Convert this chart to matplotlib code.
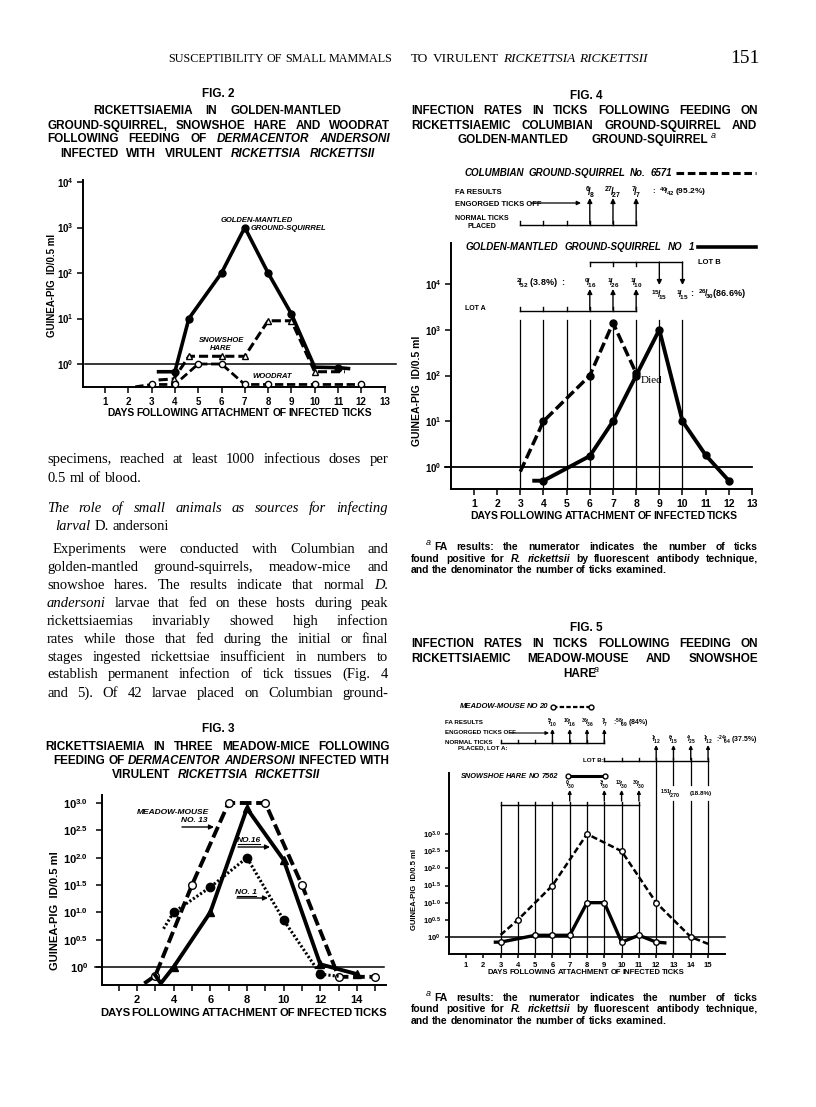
import matplotlib
matplotlib.use('Agg')
import matplotlib.pyplot as plt
from matplotlib.transforms import Affine2D, blended_transform_factory

W, H = 816, 1107
SANS = 'Liberation Sans'
SERIF = 'Liberation Serif'

plt.rcParams['font.family'] = SANS
plt.rcParams['font.weight'] = 'bold'
plt.rcParams['mathtext.fontset'] = 'custom'
plt.rcParams['mathtext.rm'] = 'Liberation Sans:bold'
plt.rcParams['mathtext.it'] = 'Liberation Sans:italic:bold'
plt.rcParams['mathtext.bf'] = 'Liberation Sans:bold'

# ---------------- data (log10 of guinea-pig ID / 0.5 ml) ----------------
# Fig. 2
f2_days = list(range(1, 14))
gm_x = [3.3, 4, 4.6, 6, 7, 8, 9, 10.0, 11, 11.45]
gm_y = [-0.17, -0.17, 1.0, 2.0, 3.0, 2.0, 1.1, -0.07, -0.08, -0.1]
hare_x = [3.3, 3.95, 4.6, 6, 7, 8, 9, 10.0, 11.3]
hare_y = [-0.35, -0.33, 0.17, 0.17, 0.17, 0.95, 0.95, -0.17, -0.17]
wood_x = [2.3, 3, 4, 5, 6, 7, 8, 9, 10, 11, 12]
wood_y = [-0.5, -0.45, -0.45, 0.0, 0.0, -0.45, -0.45, -0.45, -0.45, -0.45, -0.45]

# Fig. 3
f3_days = list(range(1, 16))
mm13_x = [2.4, 3.0, 5.0, 7.0, 9.0, 11.0, 13.0, 15.0]
mm13_y = [-0.3, -0.16, 1.5, 3.0, 3.0, 1.5, -0.18, -0.18]
mm16_x = [3.0, 3.3, 4, 6, 8, 10, 12, 14]
mm16_y = [-0.15, -0.3, 0.0, 1.0, 2.9, 1.96, 0.05, -0.13]
mm1_x = [3.45, 4, 6, 8, 10, 12, 13]
mm1_y = [0.7, 1.0, 1.46, 2.0, 0.86, -0.13, -0.17]

# Fig. 4
f4_days = list(range(1, 14))
col_x = [3.0, 4, 6, 7, 8]
col_y = [-0.1, 1.0, 2.0, 3.15, 2.05]
gm1_x = [3.6, 4, 6, 7, 8, 9, 10, 11, 12]
gm1_y = [-0.3, -0.3, 0.24, 1.0, 2.0, 3.0, 1.0, 0.26, -0.3]
col_fa_days = [6, 7, 8]
col_fa = [('6', '8'), ('27', '27'), ('7', '7')]
lotA4_days = [6, 7, 8]
lotA4_fa = [('0', '16'), ('1', '26'), ('1', '10')]
lotB4_days = [9, 10]
lotB4_fa = [('15', '15'), ('1', '15')]

# Fig. 5
f5_days = list(range(1, 16))
mm20_x = [3, 4, 6, 8, 10, 12, 14, 15]
mm20_y = [0.06, 0.5, 1.5, 3.0, 2.5, 1.0, 0.0, -0.2]
sh_x = [2.7, 3, 5, 6, 7, 8, 9, 10, 11, 12, 12.5]
sh_y = [-0.15, -0.15, 0.05, 0.05, 0.05, 1.0, 1.0, -0.15, 0.05, -0.15, -0.17]
mmA_days = [6, 7, 8, 9]
mmA_fa = [('5', '10'), ('10', '16'), ('36', '36'), ('7', '7')]
mmB_days = [12, 13, 14, 15]
mmB_fa = [('1', '12'), ('6', '15'), ('4', '25'), ('1', '12')]
shA_days = [7, 9, 10, 11]
shA_fa = [('0', '30'), ('3', '30'), ('13', '30'), ('30', '30')]

# ---------------- page ----------------
fig = plt.figure(figsize=(W / 100, H / 100), dpi=100)
fig.patch.set_facecolor('white')
page = Affine2D().scale(1, -1).translate(0, H)
R = fig.canvas.get_renderer()


def put(x, y, s, size, **kw):
    kw.setdefault('va', 'baseline')
    return fig.text(x, y, s, transform=page, fontsize=size, **kw)


def txt_line(x0, x1, y, text, size, family=SANS, weight='bold', italic=False,
             justify=True, va='baseline'):
    words = text.split()
    items = []
    for w in words:
        it = italic or w.startswith('_')
        t = put(x0, y, w.lstrip('_'), size, family=family, weight=weight,
                style='italic' if it else 'normal', va=va)
        items.append(t)
    widths = [t.get_window_extent(R).width for t in items]
    total = sum(widths)
    space = 0.27 * size * 100 / 72
    if justify and len(items) > 1:
        gap = (x1 - x0 - total) / (len(items) - 1)
        if gap < 0.6 * space:
            k = (x1 - x0 - 0.6 * space * (len(items) - 1)) / total
            for t in items:
                t.set_fontsize(size * k)
            widths = [t.get_window_extent(R).width for t in items]
            gap = (x1 - x0 - sum(widths)) / (len(items) - 1)
    else:
        gap = space
    x = x0
    for t, w in zip(items, widths):
        t.set_x(x)
        x += w + gap


def frac(n, d):
    return r'$^{%s}\!/\!_{%s}$' % (n, d)


def make_axes(box, day0, step, zero, dec):
    l, t, r, b = box
    ax = fig.add_axes([l / W, 1 - b / H, (r - l) / W, (b - t) / H])
    ax.set_xlim((l - day0) / step, (r - day0) / step)
    ax.set_ylim((zero - b) / dec, (zero - t) / dec)
    ax.patch.set_visible(False)
    for s in ('top', 'right'):
        ax.spines[s].set_visible(False)
    for s in ('left', 'bottom'):
        ax.spines[s].set_linewidth(1.4)
    ax.tick_params(direction='out', width=1.1, length=4, pad=3)
    return ax


def bracket(ax, bt, d0, d1, y, days, h=4, lw=1.0):
    ax.plot([d0, d1], [y, y], transform=bt, color='k', lw=lw, clip_on=False)
    for d in days:
        ax.plot([d, d], [y, y - h], transform=bt, color='k', lw=lw, clip_on=False)


def arrow(ax, bt, d, y0, y1, ms=7):
    ax.annotate('', xy=(d, y1), xytext=(d, y0), xycoords=bt, textcoords=bt,
                arrowprops=dict(arrowstyle='-|>', color='k', lw=1.0,
                                mutation_scale=ms, shrinkA=0, shrinkB=0),
                annotation_clip=False)


# ---------------- running head and text ----------------
txt_line(168, 393, 62, 'SUSCEPTIBILITY OF SMALL MAMMALS', 9.5, family=SERIF, weight='normal')
txt_line(411, 648, 62, 'TO VIRULENT _RICKETTSIA _RICKETTSII', 9.5, family=SERIF, weight='normal')
put(760, 63, '151', 14, family=SERIF, weight='normal', ha='right')

body = [
    (47, 388, 463, 'specimens, reached at least 1000 infectious doses per', True, False),
    (47, 388, 482, '0.5 ml of blood.', False, False),
    (47, 388, 512, 'The role of small animals as sources for infecting', True, True),
    (55, 388, 530, '_larval D. andersoni', False, False),
    (53, 388, 553, 'Experiments were conducted with Columbian and', True, False),
    (47, 388, 571, 'golden-mantled ground-squirrels, meadow-mice and', True, False),
    (47, 388, 589, 'snowshoe hares.  The results indicate that normal _D.', True, False),
    (47, 388, 607, '_andersoni larvae that fed on these hosts during peak', True, False),
    (47, 388, 625, 'rickettsiaemias invariably showed high infection', True, False),
    (47, 388, 643, 'rates while those that fed during the initial or final', True, False),
    (47, 388, 661, 'stages ingested rickettsiae insufficient in numbers to', True, False),
    (47, 388, 678, 'establish permanent infection of tick tissues (Fig. 4', True, False),
    (47, 388, 697, 'and 5).  Of 42 larvae placed on Columbian ground-', True, False),
]
for x0, x1, y, s, just, ital in body:
    txt_line(x0, x1, y, s, 10.5, family=SERIF, weight='normal', italic=ital, justify=just)

# ---------------- titles ----------------
TS = 8.5
put(218, 97, 'FIG. 2', TS, ha='center')
txt_line(93, 341, 114, 'RICKETTSIAEMIA IN GOLDEN-MANTLED', TS)
txt_line(47, 390, 129, 'GROUND-SQUIRREL, SNOWSHOE HARE AND WOODRAT', TS)
txt_line(47, 390, 142, 'FOLLOWING FEEDING OF _DERMACENTOR _ANDERSONI', TS)
txt_line(60, 375, 157, 'INFECTED WITH VIRULENT _RICKETTSIA _RICKETTSII', TS)

put(218, 732, 'FIG. 3', TS, ha='center')
txt_line(45, 390, 750, 'RICKETTSIAEMIA IN THREE MEADOW-MICE FOLLOWING', TS)
txt_line(53, 390, 764, 'FEEDING OF _DERMACENTOR _ANDERSONI INFECTED WITH', TS)
txt_line(112, 320, 778, 'VIRULENT _RICKETTSIA _RICKETTSII', TS)

put(586, 99, 'FIG. 4', TS, ha='center')
txt_line(411, 758, 114, 'INFECTION RATES IN TICKS FOLLOWING FEEDING ON', TS)
txt_line(411, 757, 129, 'RICKETTSIAEMIC COLUMBIAN GROUND-SQUIRREL AND', TS)
txt_line(457, 708, 143, 'GOLDEN-MANTLED GROUND-SQUIRREL', TS)
put(711, 138, 'a', 6.5, style='italic', weight='normal')

put(586, 631, 'FIG. 5', TS, ha='center')
txt_line(411, 758, 647, 'INFECTION RATES IN TICKS FOLLOWING FEEDING ON', TS)
txt_line(411, 758, 662, 'RICKETTSIAEMIC MEADOW-MOUSE AND SNOWSHOE', TS)
put(563, 677, 'HARE', TS)
put(594, 672, 'a', 6.5, style='italic', weight='normal')

for yb in (550, 1001):
    put(426, yb - 5, 'a', 6.5, style='italic', weight='normal')
    txt_line(434, 758, yb, 'FA results: the numerator indicates the number of ticks', 7.5)
    txt_line(411, 758, yb + 11.5, 'found positive for _R. _rickettsii by fluorescent antibody technique,', 7.5)
    txt_line(411, 758, yb + 23, 'and the denominator the number of ticks examined.', 7.5, justify=False)

# ---------------- Fig. 2 ----------------
ax2 = make_axes((83, 180, 385, 387), 81.7, 23.3, 364, 45.5)
ax2.set_xticks(f2_days)
ax2.set_xticklabels([str(d) for d in f2_days], fontsize=7)
ax2.set_yticks(range(5))
ax2.set_yticklabels([r'$10^{%d}$' % i for i in range(5)], fontsize=7)
ax2.plot([0.15, 13.5], [0, 0], color='k', lw=1.1, clip_on=False)
ax2.plot(gm_x, gm_y, color='k', lw=2.6, marker='o', ms=5, markevery=[1, 2, 3, 4, 5, 6, 8],
         clip_on=False, zorder=4)
ax2.plot(hare_x, hare_y, color='k', lw=2.2, ls=(0, (3, 1.3)), marker='^', ms=5, mfc='white',
         markevery=[1, 2, 3, 4, 5, 6, 7], clip_on=False, zorder=3)
ax2.plot(wood_x, wood_y, color='k', lw=2.0, ls=(0, (3, 1.3)), marker='o', ms=4.5, mfc='white',
         markevery=[1, 2, 3, 4, 5, 6, 8, 10], clip_on=False, zorder=3)
put(257, 220, 'GOLDEN-MANTLED', 5.5, style='italic', ha='center', va='center')
put(288, 228, 'GROUND-SQUIRREL', 5.5, style='italic', ha='center', va='center')
put(222, 340, 'SNOWSHOE', 5.5, style='italic', ha='center', va='center')
put(221, 348, 'HARE', 5.5, style='italic', ha='center', va='center')
put(272, 377, 'WOODRAT', 5.5, style='italic', ha='center', va='center')
put(52, 285, 'GUINEA-PIG  ID/0.5 ml', 7, rotation=90, ha='center', va='center')
txt_line(107, 372, 413, 'DAYS FOLLOWING ATTACHMENT OF INFECTED TICKS', 7.5, va='center')

# ---------------- Fig. 3 ----------------
ax3 = make_axes((102, 795, 386, 985), 100.3, 18.33, 967, 54.67)
ax3.set_xticks(f3_days)
ax3.set_xticklabels([str(d) if d % 2 == 0 else '' for d in f3_days], fontsize=8)
y3 = [i * 0.5 for i in range(7)]
ax3.set_yticks(y3)
ax3.set_yticklabels([r'$10^{0}$'] + [r'$10^{%.1f}$' % v for v in y3[1:]], fontsize=8)
ax3.tick_params(axis='y', pad=6)
ax3.plot([-0.3, 15.5], [0, 0], color='k', lw=1.1, clip_on=False)
ax3.plot(mm13_x, mm13_y, color='k', lw=2.8, ls=(0, (3, 1.2)), marker='o', ms=5.5, mfc='white',
         markevery=list(range(1, 8)), clip_on=False, zorder=3)
ax3.plot(mm16_x, mm16_y, color='k', lw=2.8, marker='^', ms=6,
         markevery=list(range(2, 8)), clip_on=False, zorder=4)
ax3.plot(mm1_x, mm1_y, color='k', lw=2.2, ls=(0, (0.7, 0.7)), marker='o', ms=6,
         markevery=list(range(1, 6)), clip_on=False, zorder=4)
put(173, 812, 'MEADOW-MOUSE', 6, style='italic', ha='center', va='center')
put(194, 821, 'NO. 13', 6, style='italic', ha='center', va='center')
put(249, 840, 'NO.16', 6, style='italic', ha='center', va='center')
put(246, 892, 'NO. 1', 6, style='italic', ha='center', va='center')
for x0, x1, y in ((238, 260, 844), (237, 256, 896)):
    ax3.plot([x0, x1], [y, y], transform=page, color='k', lw=0.8, clip_on=False)
for x0, x1, y in ((182, 214, 827), (238, 270, 847), (237, 268, 898)):
    ax3.annotate('', xy=(x1, y), xytext=(x0, y), xycoords=page, textcoords=page,
                 arrowprops=dict(arrowstyle='-|>', color='k', lw=1.0, mutation_scale=7,
                                 shrinkA=0, shrinkB=0), annotation_clip=False)
put(55, 911, 'GUINEA-PIG  ID/0.5 ml', 8, rotation=90, ha='center', va='center')
txt_line(100, 388, 1013, 'DAYS FOLLOWING ATTACHMENT OF INFECTED TICKS', 8.5, va='center')

# ---------------- Fig. 4 ----------------
ax4 = make_axes((451, 243, 752, 489), 450.8, 23.18, 467, 45.75)
ax4.set_xticks(f4_days)
ax4.set_xticklabels([str(d) for d in f4_days], fontsize=7.5)
ax4.set_yticks(range(5))
ax4.set_yticklabels([r'$10^{%d}$' % i for i in range(5)], fontsize=7)
bt4 = blended_transform_factory(ax4.transData, page)
for d in range(3, 11):
    ax4.plot([d, d], [320, 489], transform=bt4, color='k', lw=0.9, clip_on=False)
ax4.plot([-0.25, 13.0], [0, 0], color='k', lw=1.3, clip_on=False)
ax4.plot(col_x, col_y, color='k', lw=2.5, ls=(0, (3, 1.2)), marker='o', ms=5,
         markevery=[1, 2, 3, 4], clip_on=False, zorder=4)
ax4.plot(gm1_x, gm1_y, color='k', lw=2.8, marker='o', ms=5,
         markevery=list(range(1, 9)), clip_on=False, zorder=4)
ax4.text(8.2, 1.9, 'Died', fontsize=8, family=SERIF, weight='normal', va='center')

txt_line(465, 672, 173, 'COLUMBIAN GROUND-SQUIRREL No. 6571', 7, italic=True, va='center')
ax4.plot([676, 756], [173, 173], transform=page, color='k', lw=2.2, ls=(0, (2.5, 1.2)),
         clip_on=False)
put(455, 192, 'FA RESULTS', 5.5, va='center')
for d, (n, q) in zip(col_fa_days, col_fa):
    ax4.text(d, 192, frac(n, q), transform=bt4, ha='center', va='center', fontsize=7)
put(652, 192, ':  ' + frac('40', '42') + ' (95.2%)', 6, va='center')
put(455, 204, 'ENGORGED TICKS OFF', 5.5, va='center')
ax4.annotate('', xy=(581, 203), xytext=(531, 203), xycoords=page, textcoords=page,
             arrowprops=dict(arrowstyle='-|>', color='k', lw=0.9, mutation_scale=6,
                             shrinkA=0, shrinkB=0), annotation_clip=False)
for d in col_fa_days:
    arrow(ax4, bt4, d, 224, 198)
put(455, 219, 'NORMAL TICKS', 5, va='center')
put(468, 227, 'PLACED', 5, va='center')
bracket(ax4, bt4, 3, 8, 225, range(3, 9), h=4)

txt_line(466, 694, 247, 'GOLDEN-MANTLED GROUND-SQUIRREL NO 1', 7, italic=True, va='center')
ax4.plot([698, 756], [247, 247], transform=page, color='k', lw=2.6, clip_on=False)
bracket(ax4, bt4, 6, 10, 262, [6, 7, 8], h=-4)
put(698, 263, 'LOT B', 5.5, va='center')
for d in lotB4_days:
    arrow(ax4, bt4, d, 262, 285)
for d, (n, q) in zip(lotB4_days, lotB4_fa):
    ax4.text(d, 295, frac(n, q), transform=bt4, ha='center', va='center', fontsize=6.5)
put(690, 294, ':  ' + frac('26', '30') + '(86.6%)', 6.5, va='center')
put(516, 283, frac('2', '52') + ' (3.8%)  :', 6.5, va='center')
for d, (n, q) in zip(lotA4_days, lotA4_fa):
    ax4.text(d, 283, frac(n, q), transform=bt4, ha='center', va='center', fontsize=6.5)
for d in lotA4_days:
    arrow(ax4, bt4, d, 310, 289)
bracket(ax4, bt4, 3, 8, 311, range(3, 9), h=4)
put(465, 309, 'LOT A', 5, va='center')
put(417, 391, 'GUINEA-PIG  ID/0.5 ml', 7.5, rotation=90, ha='center', va='center')
txt_line(470, 738, 516, 'DAYS FOLLOWING ATTACHMENT OF INFECTED TICKS', 7.5, va='center')

# ---------------- Fig. 5 ----------------
ax5 = make_axes((449, 773, 725, 954), 448.7, 17.29, 937, 34.33)
ax5.set_xticks(f5_days)
ax5.set_xticklabels([str(d) for d in f5_days], fontsize=5.5)
y5 = [i * 0.5 for i in range(7)]
ax5.set_yticks(y5)
ax5.set_yticklabels([r'$10^{0}$'] + [r'$10^{%.1f}$' % v for v in y5[1:]], fontsize=5.5)
ax5.tick_params(length=3)
bt5 = blended_transform_factory(ax5.transData, page)
for d in range(3, 12):
    ax5.plot([d, d], [805, 954], transform=bt5, color='k', lw=0.9, clip_on=False)
ax5.plot([12, 12], [761, 954], transform=bt5, color='k', lw=0.9, clip_on=False)
for d in (13, 14, 15):
    ax5.plot([d, d], [761, 785], transform=bt5, color='k', lw=0.9, clip_on=False)
    ax5.plot([d, d], [801, 954], transform=bt5, color='k', lw=0.9, clip_on=False)
ax5.plot([0, 16], [0, 0], color='k', lw=1.1, clip_on=False)
ax5.plot(mm20_x, mm20_y, color='k', lw=1.8, ls=(0, (2.5, 1.2)), marker='o', ms=4, mfc='white',
         markevery=list(range(1, 7)), clip_on=False, zorder=4)
ax5.plot(sh_x, sh_y, color='k', lw=2.4, marker='o', ms=4, mfc='white',
         markevery=list(range(1, 10)), clip_on=False, zorder=4)

txt_line(460, 548, 707, 'MEADOW-MOUSE NO 20', 5.5, italic=True, va='center')
ax5.plot([553, 591], [707, 707], transform=page, color='k', lw=1.6, ls=(0, (2, 1)),
         marker='o', ms=3.5, mfc='white', markevery=[1], clip_on=False)
ax5.plot([553], [707], transform=page, color='k', marker='o', ms=3.5, mfc='white', clip_on=False)
put(445, 723, 'FA RESULTS', 4.5, va='center')
for d, (n, q) in zip(mmA_days, mmA_fa):
    ax5.text(d, 723, frac(n, q), transform=bt5, ha='center', va='center', fontsize=5)
put(613, 723, ':' + frac('58', '69') + ' (84%)', 5, va='center')
put(445, 733, 'ENGORGED TICKS OFF', 4.5, va='center')
ax5.annotate('', xy=(549, 733), xytext=(510, 733), xycoords=page, textcoords=page,
             arrowprops=dict(arrowstyle='-|>', color='k', lw=0.8, mutation_scale=5,
                             shrinkA=0, shrinkB=0), annotation_clip=False)
for d in mmA_days:
    arrow(ax5, bt5, d, 743, 729, ms=5)
put(445, 742, 'NORMAL TICKS', 4.5, va='center')
put(458, 748, 'PLACED, LOT A:', 4.5, va='center')
bracket(ax5, bt5, 3, 9, 743, range(3, 10), h=3)
for d, (n, q) in zip(mmB_days, mmB_fa):
    ax5.text(d, 740, frac(n, q), transform=bt5, ha='center', va='center', fontsize=5)
put(716, 740, ':' + frac('24', '64') + ' (37.5%)', 5, va='center')
for d in mmB_days:
    arrow(ax5, bt5, d, 760, 745, ms=5)
put(583, 761, 'LOT B:', 4.5, va='center')
bracket(ax5, bt5, 9, 15, 761, range(9, 16), h=3)

txt_line(461, 558, 776, 'SNOWSHOE HARE NO 7562', 6, italic=True, va='center')
ax5.plot([568, 605], [776, 776], transform=page, color='k', lw=2.2, marker='o', ms=3.5,
         mfc='white', clip_on=False)
for d, (n, q) in zip(shA_days, shA_fa):
    ax5.text(d, 785, frac(n, q), transform=bt5, ha='center', va='center', fontsize=5)
for d in shA_days:
    arrow(ax5, bt5, d, 801, 790, ms=5)
bracket(ax5, bt5, 3, 11, 805, range(3, 12), h=3)
put(660, 794, frac('151', '270'), 5.5, va='center')
put(690, 794, '(18.8%)', 4.5, va='center')
put(415, 889, 'GUINEA-PIG  ID/0.5 ml', 5.5, rotation=90, ha='center', va='center')
txt_line(488, 685, 973, 'DAYS FOLLOWING ATTACHMENT OF INFECTED TICKS', 6, va='center')

fig.savefig('out.png', dpi=100, facecolor='white')
